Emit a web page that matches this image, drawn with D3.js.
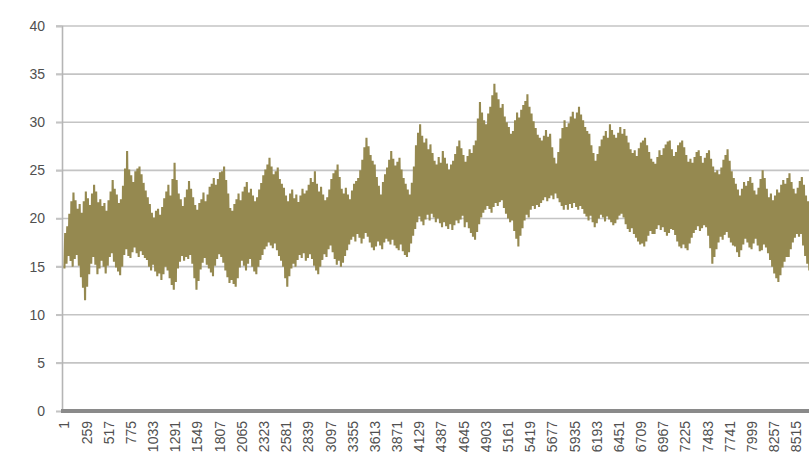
<!DOCTYPE html>
<html>
<head>
<meta charset="utf-8">
<script src="https://cdn.jsdelivr.net/npm/d3@7"></script>
<style>
  html, body { margin: 0; padding: 0; background: #fff; overflow: hidden; }
  svg { display: block; }
  text { font-family: "Liberation Sans", Arial, sans-serif; }
</style>
</head>
<body>
<svg id="chart" width="809" height="467"></svg>
<script>
// Hourly series summarised as one daily low and one daily high (day 1 = hours 1..24)
const dailyLow = [
  14.8, 15.3, 16.1, 15.6, 15.0, 15.8, 16.2, 15.1, 13.9, 12.8,
  11.5, 12.9, 14.2, 15.3, 16.0, 15.2, 14.2, 14.8, 15.6, 15.0,
  14.3, 15.1, 16.0, 16.4, 15.5, 14.9, 14.5, 14.1, 15.0, 16.2,
  16.8, 16.1, 15.9, 16.5, 17.0, 16.4, 16.0, 16.6, 16.2, 15.9,
  15.7, 15.0, 14.6, 15.2, 14.5, 14.0, 14.3, 13.6, 14.2, 15.0,
  14.6, 13.8, 13.1, 12.6, 13.4, 14.8, 15.5, 16.1, 15.6, 16.0,
  15.8, 16.2, 15.3, 13.8, 12.6, 13.5, 14.7, 15.4, 15.9, 15.2,
  14.8, 14.4, 14.0, 15.1, 15.8, 16.3, 16.0, 15.4, 14.6, 13.9,
  13.3, 13.6, 13.2, 12.9, 13.8, 14.9, 15.6, 15.1, 14.6, 15.3,
  15.8, 15.0, 14.5, 14.2, 15.0, 15.7, 16.2, 16.8, 17.1, 17.5,
  17.2, 16.9, 17.4, 16.7, 16.1, 15.6, 15.0, 13.8, 12.9, 14.0,
  14.8, 15.3, 15.0, 15.7, 16.2, 15.9, 16.4, 15.6, 15.9, 16.3,
  15.8, 15.1, 14.6, 14.2, 15.0, 15.7, 16.3, 16.0, 16.8, 17.2,
  16.5, 15.8, 15.2, 15.6, 15.0, 15.4, 16.1, 16.7, 17.3, 17.8,
  18.1, 17.6, 18.4, 18.0, 17.4, 17.9, 18.5, 18.1, 17.5, 17.0,
  16.7, 17.1, 17.6, 17.2, 16.8, 17.5, 17.9, 17.6, 17.3, 17.8,
  17.2, 16.9, 16.7, 17.3, 16.6, 16.2, 16.0, 16.5, 17.4, 18.2,
  18.9, 19.6, 20.2, 19.7, 19.3, 19.9, 20.4, 19.8, 20.5, 20.1,
  19.6, 20.0, 19.5, 19.1, 19.6, 19.2, 18.9, 19.4, 18.8, 19.3,
  19.8, 19.5, 19.9, 20.3, 19.1, 19.6, 19.0, 18.5, 18.1, 17.8,
  18.6, 19.4, 20.1, 20.6, 20.9, 21.3, 21.0, 20.6, 21.2, 21.6,
  21.3, 21.7, 21.9, 21.1, 20.5, 20.0, 19.6, 19.8, 18.7, 17.9,
  17.1, 18.2, 19.0, 19.8, 20.4, 20.1, 20.9, 21.3, 21.0, 21.4,
  21.2, 21.6, 21.9, 22.2, 21.8, 22.1, 22.4, 22.0, 22.6, 22.1,
  21.7, 21.3, 20.9, 21.4, 20.9, 21.5, 21.1, 21.6, 21.2, 20.9,
  21.3, 21.0, 20.5, 20.2, 19.8, 20.3, 19.6, 19.1, 19.5, 20.0,
  20.4, 20.1, 19.7, 20.2, 19.9, 19.6, 19.3, 19.5, 19.9, 20.3,
  20.5, 20.1, 19.4, 18.9, 18.6, 19.0, 18.4, 18.0, 17.6, 17.3,
  17.4, 17.1, 17.6, 18.2, 18.7, 18.4, 18.4, 18.9, 19.3, 18.8,
  19.1, 18.6, 18.2, 18.5, 18.9, 18.8, 18.3, 17.6, 17.1, 16.9,
  17.3, 16.9, 16.7, 17.4, 18.0, 18.5, 18.8, 19.2, 18.7, 19.0,
  19.3, 19.1, 18.2, 16.9, 15.3, 16.0, 16.8, 17.5, 18.1, 17.8,
  18.3, 18.6, 18.0, 17.5, 17.2, 17.1, 16.5, 16.0, 16.7, 17.3,
  17.9, 17.5, 17.0, 16.8, 17.4, 17.9, 17.2, 16.6, 16.7, 17.3,
  17.0, 16.4, 15.7, 15.0, 14.3, 13.8, 13.4, 14.1, 14.9, 15.5,
  16.0, 16.0, 16.8, 17.5, 18.0, 18.4, 18.1, 18.4, 17.2, 16.1,
  15.3, 14.6, 15.2, 16.0, 16.5
];

const dailyHigh = [
  18.5, 19.2, 20.5, 21.8, 22.7, 21.9, 21.0, 21.5, 20.6, 21.8,
  22.8, 22.1, 21.4, 22.6, 23.5, 22.8, 21.7, 22.0, 21.3, 21.6,
  20.8, 21.9, 22.8, 24.0, 23.1, 22.5, 21.6, 22.0, 23.4, 25.2,
  27.0, 25.1, 24.5, 23.8, 24.9, 25.2, 25.4, 24.6, 23.7, 22.9,
  22.2, 21.5, 20.6, 20.1, 20.8, 21.0, 20.4, 21.2, 22.1, 22.8,
  23.5, 22.4, 24.1, 25.8, 24.0, 22.6, 22.0, 21.3, 22.2, 23.0,
  23.9, 23.1, 22.2, 21.4, 20.9, 21.6, 22.0, 22.7, 21.8, 22.5,
  23.3, 23.6, 24.2, 23.5, 24.1, 24.8, 24.9, 25.4, 24.0, 22.6,
  21.1, 20.8, 21.5, 22.0, 22.6, 21.9, 22.8, 23.3, 23.8, 22.7,
  23.1, 22.4, 21.8, 22.2, 23.0, 23.7, 24.5, 25.1, 25.6, 26.3,
  25.4, 24.6, 24.9, 25.3, 24.1, 23.6, 23.2, 22.4, 21.8, 22.6,
  23.0, 22.1, 22.5, 21.7, 22.4, 23.1, 22.6, 22.9, 23.5, 24.2,
  23.8, 24.9, 23.6, 22.8, 23.3, 22.5, 21.9, 22.2, 23.0, 24.1,
  24.7, 25.0, 25.6, 24.3, 23.1, 22.6, 23.2, 22.5, 22.0, 22.9,
  23.6, 23.9, 24.2, 25.0, 26.1, 27.4, 28.4, 27.5, 26.6, 26.0,
  25.6, 24.3, 23.4, 22.5, 23.8, 24.6, 25.3, 26.1, 27.0, 26.2,
  25.5, 25.9, 26.3, 25.1, 24.2, 23.6, 23.0, 22.5, 23.7, 25.4,
  27.6, 28.9, 29.8, 28.6, 27.9, 28.3, 27.2, 27.7, 26.8, 26.0,
  25.6, 26.4, 25.8, 27.0, 26.3, 25.7, 25.1, 25.6, 26.0, 26.7,
  27.5, 28.1, 27.3, 26.6, 25.9, 26.5, 27.2, 26.8, 27.6, 28.1,
  30.4, 32.1, 31.0, 30.2, 29.8, 30.9, 31.6, 32.8, 34.0, 33.1,
  32.4, 31.5, 31.9, 30.6, 30.0, 29.5, 28.8, 29.1, 30.2, 31.0,
  30.5, 31.3, 31.8, 32.2, 32.9, 31.6, 30.9, 30.1, 29.4, 28.7,
  28.4, 28.1, 28.6, 29.2, 28.5, 28.8, 27.4, 26.3, 25.7, 26.9,
  28.3, 29.4, 30.2, 29.5, 29.9, 30.6, 31.1, 30.4, 31.0, 31.6,
  30.8, 30.2, 29.5, 29.1, 28.8, 27.6, 26.8, 26.0, 26.7, 27.5,
  28.2, 28.6, 29.1, 28.4, 29.8, 29.2, 28.7, 28.4, 28.9, 29.5,
  28.8, 29.3, 28.6, 27.9, 27.2, 26.8, 27.1, 26.5, 27.3, 27.9,
  28.1, 28.4, 27.6, 26.9, 26.2, 25.9, 25.7, 26.4, 27.1, 26.6,
  27.3, 27.7, 28.0, 28.1, 27.2, 26.5, 26.9, 27.6, 27.9, 28.1,
  27.4, 26.6, 25.9, 26.2, 25.8, 26.4, 26.9, 27.1, 26.5, 25.8,
  26.3, 26.8, 27.1, 26.2, 25.4, 24.8, 25.0, 24.6, 25.3, 26.1,
  26.6, 27.2, 26.0, 24.9, 24.2, 23.6, 23.0, 22.4, 23.1, 23.8,
  23.4, 23.9, 24.3, 23.7, 22.9, 22.5, 23.2, 24.1, 25.0, 24.2,
  23.1, 22.2, 22.6, 21.9, 22.4, 23.0, 22.7, 23.5, 24.0, 23.6,
  24.2, 24.7, 23.8, 23.1, 22.6, 23.2, 23.9, 24.3, 23.5, 22.4,
  21.8, 22.5, 23.0, 22.3, 21.6
];

// Hour of day at which the low and the high occur
const lowHour = 6;
const highHour = 15;

const xTickLabels = [1, 259, 517, 775, 1033, 1291, 1549, 1807, 2065, 2323, 2581, 2839,
  3097, 3355, 3613, 3871, 4129, 4387, 4645, 4903, 5161, 5419, 5677, 5935, 6193, 6451,
  6709, 6967, 7225, 7483, 7741, 7999, 8257, 8515];
const yTickLabels = [0, 5, 10, 15, 20, 25, 30, 35, 40];

const svg = d3.select("#chart");
const plotLeft = 62, plotTop = 26, plotBottom = 411;
const lastHour = 8760;

// Category axis: hour index 1..8760
const x = d3.scaleLinear()
  .domain([1, 8515])
  .range([64, 796]);
const y = d3.scaleLinear()
  .domain([0, 40])
  .range([plotBottom, plotTop]);

const plotRight = x(lastHour);

// Horizontal gridlines
svg.append("g")
  .selectAll("line")
  .data(yTickLabels.filter(v => v > 0))
  .join("line")
  .attr("x1", plotLeft - 6)
  .attr("x2", plotRight)
  .attr("y1", d => y(d))
  .attr("y2", d => y(d))
  .attr("stroke", "#c4c4c4")
  .attr("stroke-width", 1.6);

// Value axis
const yAxis = d3.axisLeft(y)
  .tickValues(yTickLabels)
  .tickSize(6)
  .tickPadding(11);
const gy = svg.append("g")
  .attr("transform", `translate(${plotLeft},0)`)
  .call(yAxis);
gy.select(".domain").attr("stroke", "#b5b5b5").attr("stroke-width", 1.6);
gy.selectAll(".tick line").attr("stroke", "#c4c4c4").attr("stroke-width", 1.6);
gy.selectAll(".tick text")
  .attr("fill", "#505050")
  .style("font-size", "14px");

// Series: daily lows and highs placed at their hour index
const points = [];
dailyLow.forEach((lo, d) => {
  points.push([d * 24 + lowHour, lo]);
  points.push([d * 24 + highHour, dailyHigh[d]]);
});

const line = d3.line()
  .x(p => x(p[0]))
  .y(p => y(p[1]));

svg.append("path")
  .datum(points)
  .attr("d", line)
  .attr("fill", "none")
  .attr("stroke", "#958950")
  .attr("stroke-width", 2.1)
  .attr("stroke-linejoin", "miter");

// Category axis
const xAxis = d3.axisBottom(x)
  .tickValues(xTickLabels)
  .tickSize(0)
  .tickPadding(0)
  .tickFormat(d3.format("d"));
const gx = svg.append("g")
  .attr("transform", `translate(0,${plotBottom})`)
  .call(xAxis);
gx.select(".domain").remove();
gx.append("line")
  .attr("x1", plotLeft - 1)
  .attr("x2", plotRight)
  .attr("y1", 0)
  .attr("y2", 0)
  .attr("stroke", "#8a8a8a")
  .attr("stroke-width", 4);
gx.selectAll(".tick text")
  .attr("fill", "#505050")
  .style("font-size", "14px")
  .attr("text-anchor", "end")
  .attr("transform", "rotate(-90)")
  .attr("x", -10)
  .attr("y", 0)
  .attr("dy", "0.35em");
</script>
</body>
</html>
